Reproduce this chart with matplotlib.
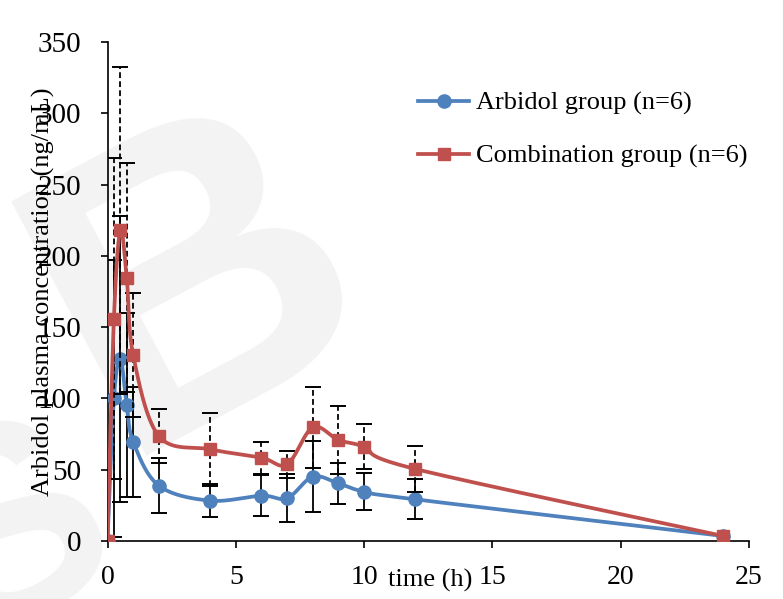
import numpy as np
import matplotlib
matplotlib.use("Agg")
import matplotlib.pyplot as plt

plt.rcParams['font.family'] = ['Liberation Serif', 'DejaVu Serif']

time_h = [0, 0.25, 0.5, 0.75, 1, 2, 4, 6, 7, 8, 9, 10, 12, 24]
arbidol_mean = [0, 100, 127.7, 95.4, 69.7, 38.8, 28.3, 31.8, 30.0, 45.1, 40.4, 34.6, 29.2, 3.5]
arbidol_sd = [0, 97, 100, 64.6, 38.5, 19.4, 11.5, 14.5, 16.8, 25.0, 14.5, 12.9, 14.1, 0]
combo_mean = [0, 156, 218, 184.7, 130.5, 73.6, 64.3, 58.4, 53.8, 79.7, 70.8, 66.1, 50.5, 3.5]
combo_sd = [0, 112.6, 114.7, 80.3, 43.5, 18.8, 25.7, 11.2, 9.3, 28.5, 24.1, 15.9, 16.1, 0]
series_labels = ["Arbidol group (n=6)", "Combination group (n=6)"]
x_ticks = [0, 5, 10, 15, 20, 25]
y_ticks = [0, 50, 100, 150, 200, 250, 300, 350]

BLUE = '#4F81BD'
RED = '#C0504D'

W, H = 783, 599
fig = plt.figure(figsize=(W / 100, H / 100), dpi=100)

# background watermark (drawn below the axes)
bg = fig.add_axes([0, 0, 1, 1], zorder=-10)
bg.set_axis_off()
bg.text(200 / W, 1 - 290 / H, "B", fontsize=300, color='#f3f3f3', rotation=28,
        ha='center', va='center', family='Liberation Sans', fontweight='bold',
        transform=bg.transAxes)
bg.text(15 / W, 1 - 540 / H, "S", fontsize=200, color='#f3f3f3', rotation=28,
        ha='center', va='center', family='Liberation Sans', fontweight='bold',
        transform=bg.transAxes)

ax = fig.add_axes([107.5 / W, 1 - 541 / H, (749 - 107.5) / W, (541 - 42) / H])
ax.patch.set_alpha(0)
ax.set_xlim(0, 25)
ax.set_ylim(0, 350)
ax.set_xticks(x_ticks)
ax.set_yticks(y_ticks)
for s in ['top', 'right']:
    ax.spines[s].set_visible(False)
for s in ['left', 'bottom']:
    ax.spines[s].set_linewidth(1.2)
ax.tick_params(direction='out', length=5, width=1.2, labelsize=20)
ax.tick_params(axis='y', pad=14, labelsize=21)
ax.tick_params(axis='x', pad=12)


def smooth(xs, ys, n=40):
    pts = ax.transData.transform(np.column_stack([xs, ys]))
    P = np.vstack([pts[0], pts, pts[-1]])
    out = []
    t = np.linspace(0, 1, n)[:, None]
    for i in range(1, len(P) - 2):
        p0, p1, p2, p3 = P[i - 1], P[i], P[i + 1], P[i + 2]
        b0 = p1
        b1 = p1 + (p2 - p0) / 6
        b2 = p2 - (p3 - p1) / 6
        b3 = p2
        seg = ((1 - t) ** 3) * b0 + 3 * ((1 - t) ** 2) * t * b1 + 3 * (1 - t) * t ** 2 * b2 + t ** 3 * b3
        out.append(seg if i == 1 else seg[1:])
    out = np.vstack(out)
    d = ax.transData.inverted().transform(out)
    return d[:, 0], d[:, 1]


def draw_series(means, sds, color, marker, ms, dashed, label, z):
    tx = np.array(time_h, dtype=float)
    m = np.array(means, dtype=float)
    e = np.array(sds, dtype=float)
    keep = e > 0
    eb = ax.errorbar(tx[keep], m[keep], yerr=e[keep], fmt='none', ecolor='black',
                     elinewidth=1.3, capsize=5.5, capthick=1.4, zorder=z)
    if dashed:
        for lc in eb[2]:
            lc.set_linestyle((0, (3.2, 1.8)))
    sx, sy = smooth(tx, m)
    ax.plot(sx, sy, color=color, lw=2.7, zorder=z + 1, solid_capstyle='round')
    ax.plot(tx, m, linestyle='none', marker=marker, ms=ms, color=color, mec=color, zorder=z + 2)
    ax.plot([], [], color=color, lw=2.7, marker=marker, ms=ms, label=label)


draw_series(arbidol_mean, arbidol_sd, BLUE, 'o', 9.5, False, series_labels[0], 2)
draw_series(combo_mean, combo_sd, RED, 's', 8.5, True, series_labels[1], 5)

ax.set_xlabel("time (h)", fontsize=19)
ax.xaxis.set_label_coords(0.503, -0.056)
ax.set_ylabel("Arbidol plasma concentration (ng/mL)", fontsize=19)
ax.yaxis.set_label_coords(-0.082, 0.5)

leg = ax.legend(loc='center left', bbox_to_anchor=(418 / W, 1 - 130 / H),
                bbox_transform=fig.transFigure, frameon=False, fontsize=19,
                handlelength=1.95, handletextpad=0.25, labelspacing=1.1, borderpad=0,
                borderaxespad=0)

fig.savefig("out.png", dpi=100)
